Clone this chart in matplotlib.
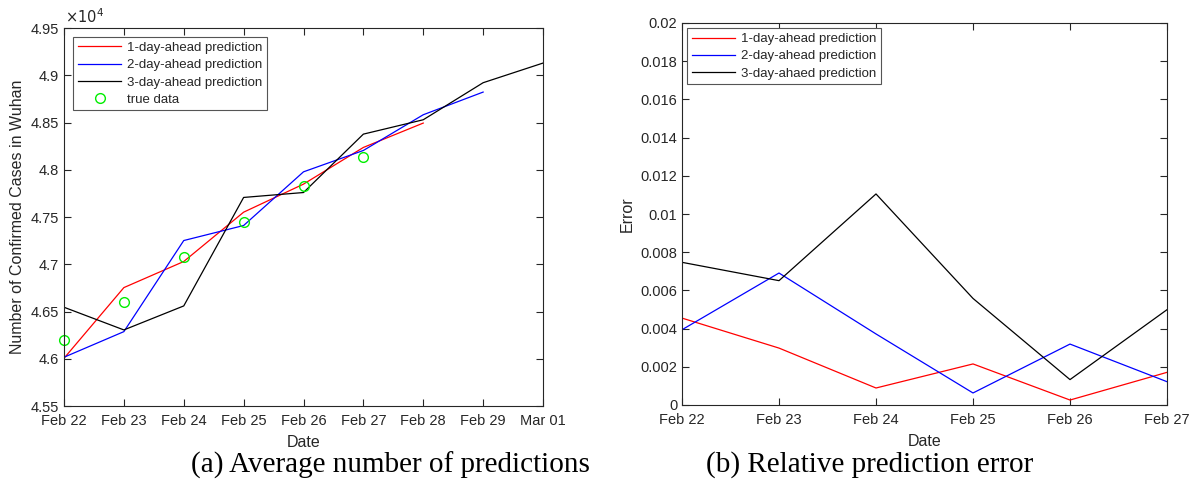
import numpy as np
import matplotlib.pyplot as plt
from matplotlib.ticker import FuncFormatter

plt.rcParams['font.family'] = ['Liberation Sans', 'DejaVu Sans']

# left panel: predicted counts (Feb 22 .. Mar 01)
dates_a = ['Feb 22', 'Feb 23', 'Feb 24', 'Feb 25', 'Feb 26', 'Feb 27', 'Feb 28', 'Feb 29', 'Mar 01']
pred1 = [46005, 46753, 47029, 47551, 47848, 48236, 48494]
pred2 = [46016, 46287, 47251, 47410, 47978, 48204, 48582, 48822]
pred3 = [46545, 46305, 46559, 47707, 47759, 48377, 48529, 48921, 49129]
true_data = [46199, 46605, 47075, 47442, 47823, 48137]

# right panel: relative error (Feb 22 .. Feb 27)
dates_b = ['Feb 22', 'Feb 23', 'Feb 24', 'Feb 25', 'Feb 26', 'Feb 27']
err1 = [0.00455, 0.00298, 0.00089, 0.00215, 0.00026, 0.00171]
err2 = [0.00394, 0.00691, 0.00372, 0.00063, 0.00319, 0.00122]
err3 = [0.00747, 0.00651, 0.01105, 0.00558, 0.00133, 0.00499]

txt = '#262626'
fig = plt.figure(figsize=(11.9, 4.92), dpi=100)
ax1 = fig.add_axes([64/1190, 1-406/492, 479/1190, 378/492])
ax2 = fig.add_axes([682/1190, 1-405/492, 485/1190, 382/492])

def style(ax):
    ax.tick_params(direction='in', top=True, right=True, labelsize=10.5, length=5, width=0.8,
                   colors=txt)
    ax.tick_params(axis='x', pad=6)
    for s in ax.spines.values():
        s.set_linewidth(0.8)
        s.set_color(txt)

def legend(ax, pad):
    leg = ax.legend(loc='upper left', fontsize=9.5, fancybox=False, framealpha=1,
                    edgecolor='#555555', handlelength=3.3, handletextpad=0.4,
                    labelspacing=0.38, borderaxespad=pad, borderpad=0.35)
    leg.get_frame().set_linewidth(0.8)
    for t in leg.get_texts():
        t.set_color(txt)

scale = 1e4
xa = np.arange(len(dates_a))
ax1.plot(xa[:len(pred1)], np.array(pred1)/scale, color='red', lw=0.9, label='1-day-ahead prediction')
ax1.plot(xa[:len(pred2)], np.array(pred2)/scale, color='blue', lw=0.9, label='2-day-ahead prediction')
ax1.plot(xa[:len(pred3)], np.array(pred3)/scale, color='black', lw=0.9, label='3-day-ahead prediction')
ax1.plot(xa[:len(true_data)], np.array(true_data)/scale, 'o', mfc='none', mec='#00ee00', ms=7,
         mew=1.0, label='true data', clip_on=False)
ax1.set_xlim(0, len(dates_a)-1)
ax1.set_ylim(4.55, 4.95)
ax1.set_xticks(xa)
ax1.set_xticklabels(dates_a)
ax1.set_yticks(np.arange(4.55, 4.951, 0.05))
ax1.yaxis.set_major_formatter(FuncFormatter(lambda v, p: '%g' % round(v, 2)))
ax1.set_xlabel('Date', fontsize=11.5, color=txt, labelpad=5)
ax1.set_ylabel('Number of Confirmed Cases in Wuhan', fontsize=11.5, color=txt, labelpad=4)
ax1.text(0.003, 1.004, r'$\times10^4$', transform=ax1.transAxes, fontsize=10.5, va='bottom', color=txt)
style(ax1)
legend(ax1, 0.7)

xb = np.arange(len(dates_b))
ax2.plot(xb, err1, color='red', lw=0.9, label='1-day-ahead prediction')
ax2.plot(xb, err2, color='blue', lw=0.9, label='2-day-ahead prediction')
ax2.plot(xb, err3, color='black', lw=0.9, label='3-day-ahaed prediction')
ax2.set_xlim(0, len(dates_b)-1)
ax2.set_ylim(0, 0.02)
ax2.set_xticks(xb)
ax2.set_xticklabels(dates_b)
ax2.set_yticks(np.arange(0, 0.0201, 0.002))
ax2.yaxis.set_major_formatter(FuncFormatter(lambda v, p: '%g' % round(v, 3)))
ax2.set_xlabel('Date', fontsize=11.5, color=txt, labelpad=5)
ax2.set_ylabel('Error', fontsize=11.5, color=txt)
style(ax2)
legend(ax2, 0.4)

fig.text(390/1190, 1-465/492, '(a) Average number of predictions', family='Liberation Serif',
         fontsize=21, ha='center', va='center')
fig.text(870/1190, 1-465/492, '(b) Relative prediction error', family='Liberation Serif',
         fontsize=21, ha='center', va='center')

fig.savefig('out.png', dpi=100)
